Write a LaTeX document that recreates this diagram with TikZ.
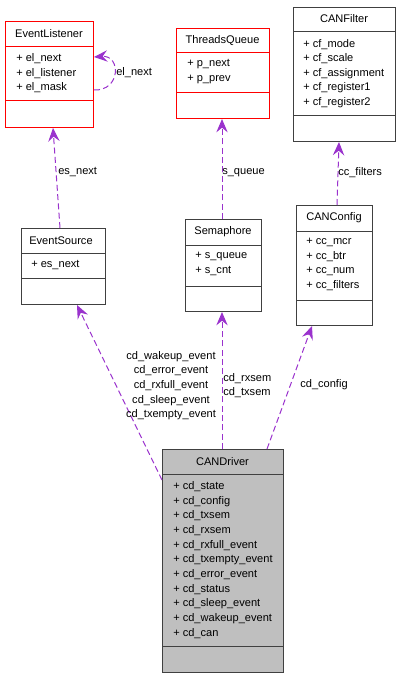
\documentclass[tikz,border=0pt]{standalone}
\usepackage{fontspec}
\setmainfont{Liberation Sans}
\usetikzlibrary{arrows.meta,calc}
\definecolor{usagecol}{HTML}{9A32CD}
\definecolor{boxgray}{HTML}{404040}
\definecolor{drvfill}{HTML}{BFBFBF}
\begin{document}
\begin{tikzpicture}[x=0.75pt,y=-0.75pt,
  font=\fontsize{8.3}{11}\selectfont,
  cls/.style={draw=boxgray, line width=0.75pt, inner sep=0pt, anchor=north west},
  redcls/.style={cls, draw=red},
  divider/.style={draw=boxgray, line width=0.75pt},
  reddivider/.style={draw=red, line width=0.75pt},
  attr/.style={anchor=west, inner sep=0pt},
  hdr/.style={anchor=center, inner sep=0pt},
  lbl/.style={inner sep=0pt},
  usage/.style={draw=usagecol, line width=0.75pt, dash pattern=on 4.5pt off 2.5pt,
    -{Stealth[length=10pt,width=8.5pt,inset=3.5pt]}}]
\useasboundingbox (0,0) rectangle (400,677);

% EventListener
\node[redcls, minimum width=66pt, minimum height=79.5pt] (el) at (5,21) {};
\draw[reddivider] (5,47) -- (93,47);
\draw[reddivider] (5,101) -- (93,101);
\node[hdr] (elh) at (49,34) {EventListener};
\node[attr] (ela1) at (16,59) {+ el\_next};
\node[attr] (ela2) at (16,73.5) {+ el\_listener};
\node[attr] (ela3) at (16,88) {+ el\_mask};

% ThreadsQueue
\node[redcls, minimum width=69.75pt, minimum height=67.5pt] (tq) at (176,28) {};
\draw[reddivider] (176,53) -- (269,53);
\draw[reddivider] (176,93) -- (269,93);
\node[hdr] (tqh) at (222.5,40.5) {ThreadsQueue};
\node[attr] (tqa1) at (187,64.5) {+ p\_next};
\node[attr] (tqa2) at (187,79) {+ p\_prev};

% CANFilter
\node[cls, minimum width=76.5pt, minimum height=100.5pt] (flt) at (293,7) {};
\draw[divider] (293,32) -- (395,32);
\draw[divider] (293,116) -- (395,116);
\node[hdr] (flth) at (344,19) {CANFilter};
\node[attr] (flta1) at (303,44.5) {+ cf\_mode};
\node[attr] (flta2) at (303,59) {+ cf\_scale};
\node[attr] (flta3) at (303,73.5) {+ cf\_assignment};
\node[attr] (flta4) at (303,88) {+ cf\_register1};
\node[attr] (flta5) at (303,102.5) {+ cf\_register2};

% EventSource
\node[cls, minimum width=63pt, minimum height=57pt] (es) at (21,228) {};
\draw[divider] (21,253) -- (105,253);
\draw[divider] (21,278) -- (105,278);
\node[hdr] (esh) at (61,240.5) {EventSource};
\node[attr] (esa1) at (31,265.5) {+ es\_next};

% Semaphore
\node[cls, minimum width=57pt, minimum height=69pt] (sem) at (185,219) {};
\draw[divider] (185,245) -- (261,245);
\draw[divider] (185,286) -- (261,286);
\node[hdr] (semh) at (223,232) {Semaphore};
\node[attr] (sema1) at (195,256.5) {+ s\_queue};
\node[attr] (sema2) at (195,271) {+ s\_cnt};

% CANConfig
\node[cls, minimum width=57pt, minimum height=90pt] (cfg) at (296,205) {};
\draw[divider] (296,231) -- (372,231);
\draw[divider] (296,300) -- (372,300);
\node[hdr] (cfgh) at (334,217.5) {CANConfig};
\node[attr] (cfga1) at (306,242.5) {+ cc\_mcr};
\node[attr] (cfga2) at (306,257) {+ cc\_btr};
\node[attr] (cfga3) at (306,271.5) {+ cc\_num};
\node[attr] (cfga4) at (306,286) {+ cc\_filters};

% CANDriver
\node[cls, fill=drvfill, minimum width=90.75pt, minimum height=167.25pt] (drv) at (162,449) {};
\draw[divider] (162,474) -- (283,474);
\draw[divider] (162,646) -- (283,646);
\node[hdr] (drvh) at (222.5,461.5) {CANDriver};
\node[attr] (drva1) at (173,486.5) {+ cd\_state};
\node[attr] (drva2) at (173,501.2) {+ cd\_config};
\node[attr] (drva3) at (173,515.9) {+ cd\_txsem};
\node[attr] (drva4) at (173,530.6) {+ cd\_rxsem};
\node[attr] (drva5) at (173,545.3) {+ cd\_rxfull\_event};
\node[attr] (drva6) at (173,560) {+ cd\_txempty\_event};
\node[attr] (drva7) at (173,574.7) {+ cd\_error\_event};
\node[attr] (drva8) at (173,589.4) {+ cd\_status};
\node[attr] (drva9) at (173,604.1) {+ cd\_sleep\_event};
\node[attr] (drva10) at (173,618.8) {+ cd\_wakeup\_event};
\node[attr] (drva11) at (173,633.5) {+ cd\_can};

% Connectors
\draw[usage] (el.east |- 0,90) .. controls (121,91) and (121,55) .. (el.east |- 0,57);
\node[lbl, anchor=west] (lel) at (116,72.5) {el\_next};

\draw[usage] (es.north -| 60,0) -- (el.south -| 53,0);
\node[lbl, anchor=west] (les) at (58,172.5) {es\_next};

\draw[usage] (sem.north -| 222,0) -- (tq.south -| 222,0);
\node[lbl, anchor=west] (lsq) at (222,172.5) {s\_queue};

\draw[usage] (cfg.north -| 337,0) -- (flt.south -| 339,0);
\node[lbl, anchor=west] (lcf) at (338,172.5) {cc\_filters};

\draw[usage] (drv.west |- 0,480) -- (es.south -| 77,0);
\node[lbl, align=center] (lev) at (171,385.5) {cd\_wakeup\_event\\cd\_error\_event\\cd\_rxfull\_event\\cd\_sleep\_event\\cd\_txempty\_event};

\draw[usage] (drv.north -| 222,0) -- (sem.south -| 222,0);
\node[lbl, align=left, anchor=west] (lsem) at (223,385.5) {cd\_rxsem\\cd\_txsem};

\draw[usage] (drv.north -| 267,0) -- (cfg.south -| 312,0);
\node[lbl] (lcfg) at (324,384.5) {cd\_config};
\end{tikzpicture}
\end{document}
